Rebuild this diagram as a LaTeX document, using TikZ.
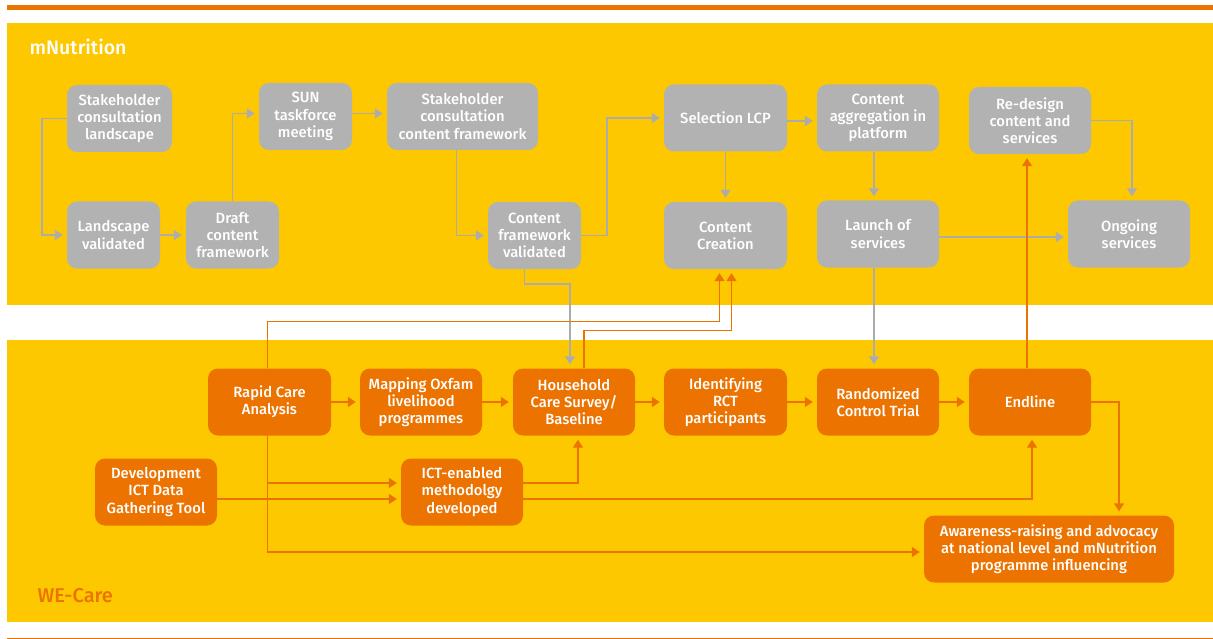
\documentclass[tikz,border=0pt]{standalone}
\usepackage{fontspec}
\setmainfont{Fira Sans}[BoldFont={Fira Sans Medium}]
\usepackage{tikz}
\usetikzlibrary{arrows.meta,positioning,calc}
\definecolor{wcyellow}{RGB}{253,200,0}
\definecolor{wcorange}{RGB}{236,115,0}
\definecolor{nodegray}{RGB}{178,178,178}
\definecolor{linegray}{RGB}{172,172,172}

\begin{document}
\begin{tikzpicture}[x=1pt, y=-1pt]
\tikzstyle{gbox} = [rectangle, rounded corners=10pt, minimum width=93pt, minimum height=67pt, inner sep=2pt, align=center, fill=nodegray, text=white, font=\bfseries\fontsize{14.8}{17.2}\selectfont]
\tikzstyle{obox} = [gbox, fill=wcorange, minimum width=122pt]
\tikzstyle{garrow} = [line width=1.6pt, draw=linegray, -{Triangle[length=8pt,width=10pt]}, shorten >=4pt]
\tikzstyle{oarrow} = [line width=1.4pt, draw=wcorange, -{Triangle[length=8pt,width=10pt]}, shorten >=4pt]
\tikzstyle{panel} = [fill=wcyellow]

\useasboundingbox (0,0) rectangle (1213,639);
\fill[wcorange] (7,5) rectangle (1213,10);
\fill[panel] (7,23) rectangle (1213,305);
\fill[panel] (7,340) rectangle (1213,622);
\draw[wcorange, line width=1pt] (7,638) -- (1213,638);

\node (mnlabel) [anchor=west, text=white, font=\bfseries\fontsize{19.5}{22}\selectfont] at (26,47) {mNutrition};
\node (welabel) [anchor=west, text=wcorange, font=\bfseries\fontsize{20}{22}\selectfont] at (34,596) {WE-Care};

\node (scl) [gbox, minimum width=105pt] at (119.5,118.5) {Stakeholder\\consultation\\landscape};
\node (lv) [gbox] at (113.5,235) {Landscape\\validated};
\node (dcf) [gbox] at (232.5,235) {Draft\\content\\framework};
\node (sun) [gbox] at (305.5,116.5) {SUN\\taskforce\\meeting};
\node (sccf) [gbox, minimum width=151pt] at (462.5,116.5) {Stakeholder\\consultation\\content framework};
\node (cfv) [gbox] at (534.5,235.5) {Content\\framework\\validated};
\node (lcp) [gbox, minimum width=123pt] at (725.5,118) {Selection LCP};
\node (cc) [gbox, minimum width=123pt] at (725.5,235.5) {Content\\Creation};
\node (agg) [gbox, minimum width=122pt] at (878,118) {Content\\aggregation in\\platform};
\node (launch) [gbox, minimum width=122pt] at (878,234) {Launch of\\services};
\node (redesign) [gbox, minimum width=122pt] at (1030,120.5) {Re-design\\content and\\services};
\node (ongoing) [gbox, minimum width=122pt] at (1129,234) {Ongoing\\services};

\node (rca) [obox, minimum width=123pt] at (269.5,402) {Rapid Care\\Analysis};
\node (map) [obox] at (421,402) {Mapping Oxfam\\livelihood\\programmes};
\node (hcs) [obox] at (574,402) {Household\\Care Survey/\\Baseline};
\node (rct) [obox, minimum width=123pt] at (725.5,402) {Identifying\\RCT\\participants};
\node (trial) [obox] at (878,402) {Randomized\\Control Trial};
\node (endline) [obox] at (1030,402) {Endline};
\node (dev) [obox] at (156,492) {Development\\ICT Data\\Gathering Tool};
\node (ict) [obox] at (462,492) {ICT-enabled\\methodolgy\\developed};
\node (aware) [obox, minimum width=250pt] at (1049,549) {Awareness-raising and advocacy\\at national level and mNutrition\\programme influencing};

\draw [garrow] (scl.west) -- ++(-25,0) |- (lv.west);
\draw [garrow] (lv) -- (dcf);
\draw [garrow] (dcf.north) |- ([yshift=3pt]sun.west);
\draw [garrow] ([yshift=3pt]sun.east) -- ([yshift=3pt]sccf.west);
\draw [garrow] ([xshift=-6pt]sccf.south) |- (cfv.west);
\draw [garrow] (cfv.east) -- ++(26,0) |- (lcp.west);
\draw [garrow] (lcp) -- (cc);
\draw [garrow] ([yshift=-3pt]lcp.east) -- ([yshift=-3pt]agg.west);
\draw [garrow] ([xshift=-4pt]agg.south) -- ([xshift=-4pt]launch.north);
\draw [garrow] ([yshift=-3pt]launch.east) -- ([yshift=-3pt]ongoing.west);
\draw [garrow] (redesign.east) -| ([xshift=3pt]ongoing.north);
\draw [garrow] ([xshift=-10pt]cfv.south) -- ++(0,15) -| ([xshift=-4pt]hcs.north);
\draw [garrow] ([xshift=-4pt]launch.south) -- ([xshift=-4pt]trial.north);

\draw [oarrow] (rca) -- (map);
\draw [oarrow] (map) -- (hcs);
\draw [oarrow] (hcs) -- (rct);
\draw [oarrow] (rct) -- (trial);
\draw [oarrow] (trial) -- (endline);
\draw [oarrow] ([xshift=-2pt]rca.north) -- ++(0,-47) -| ([xshift=-6pt]cc.south);
\draw [oarrow] ([xshift=10pt]hcs.north) -- ++(0,-38) -| ([xshift=6pt]cc.south);
\draw [oarrow] ([xshift=-2pt]rca.south) |- ([yshift=-3pt]aware.west);
\draw [oarrow] ([xshift=-2pt]rca.south) |- ([yshift=9pt]ict.west);
\draw [oarrow] ([yshift=-7pt]dev.east) -- ([yshift=-7pt]ict.west);
\draw [oarrow] ([yshift=9pt]ict.east) -| ([xshift=4pt]hcs.south);
\draw [oarrow] ([yshift=-7pt]ict.east) -| ([xshift=2pt]endline.south);
\draw [oarrow] ([xshift=-3pt]endline.north) -- ([xshift=-3pt]redesign.south);
\draw [oarrow] (endline.east) -| ([xshift=70pt]aware.north);
\end{tikzpicture}
\end{document}
